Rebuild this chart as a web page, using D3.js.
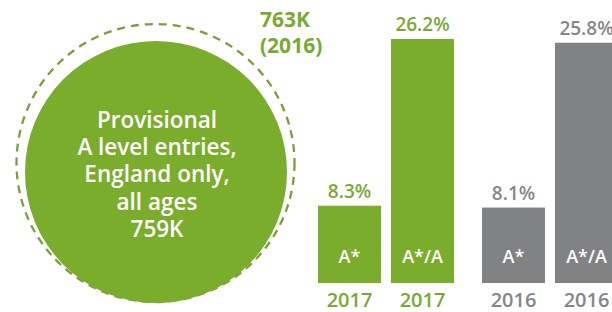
<!DOCTYPE html>
<html>
<head>
<meta charset="utf-8">
<script src="https://cdn.jsdelivr.net/npm/d3@7"></script>
<style>
  body { margin: 0; background: #fff; }
  svg { display: block; font-family: "Open Sans", sans-serif; }
</style>
</head>
<body>
<div id="chart"></div>
<script>
// data
var years = ["2017", "2016"];
var grades = ["A*", "A*/A"];
var values2017 = [8.3, 26.2];
var values2016 = [8.1, 25.8];
var bubbleLines = ["Provisional", "A level entries,", "England only,", "all ages", "759K"];
var previousLines = ["763K", "(2016)"];

var green = "#7aad2b";
var gray = "#808283";
var greenText = "#79aa33";
var grayText = "#858789";

var width = 612, height = 312;

var svg = d3.select("#chart").append("svg")
    .attr("width", width)
    .attr("height", height);

// bubble: dashed outline for 2016, solid for 2017
svg.append("circle")
    .attr("cx", 155.5)
    .attr("cy", 163)
    .attr("r", 139)
    .attr("fill", "none")
    .attr("stroke", "#7b9f3c")
    .attr("stroke-width", 2.3)
    .attr("stroke-dasharray", "8,6");

svg.append("circle")
    .attr("cx", 156)
    .attr("cy", 172)
    .attr("r", 131)
    .attr("fill", green);

svg.append("g").selectAll("text")
    .data(bubbleLines)
    .enter().append("text")
    .attr("x", 157)
    .attr("y", function (d, i) { return 128 + i * 27.2; })
    .attr("text-anchor", "middle")
    .attr("fill", "#fff")
    .attr("font-size", 22.5)
    .attr("font-weight", 600)
    .text(function (d) { return d; });

svg.append("g").selectAll("text")
    .data(previousLines)
    .enter().append("text")
    .attr("x", 260)
    .attr("y", function (d, i) { return 27 + i * 26; })
    .attr("fill", greenText)
    .attr("font-size", 21)
    .attr("font-weight", 700)
    .text(function (d) { return d; });

// bars
var bars = [];
years.forEach(function (yr) {
    var vals = yr === "2017" ? values2017 : values2016;
    grades.forEach(function (g, i) {
        bars.push({year: yr, grade: g, value: vals[i]});
    });
});

var x0 = d3.scaleBand()
    .domain(years)
    .range([318, 618])
    .paddingInner(28 / 164);

var x1 = d3.scaleBand()
    .domain(grades)
    .range([0, x0.bandwidth()])
    .paddingInner(10 / 73);

var y = d3.scaleLinear()
    .domain([0, 26.2])
    .range([283, 39]);

var bar = svg.append("g").selectAll("g")
    .data(bars)
    .enter().append("g")
    .attr("transform", function (d) {
        return "translate(" + (x0(d.year) + x1(d.grade)) + ",0)";
    });

bar.append("rect")
    .attr("x", 0)
    .attr("y", function (d) { return y(d.value); })
    .attr("width", x1.bandwidth())
    .attr("height", function (d) { return y(0) - y(d.value); })
    .attr("fill", function (d) { return d.year === "2017" ? green : gray; });

bar.append("text")
    .attr("x", x1.bandwidth() / 2)
    .attr("y", function (d) { return y(d.value) - 8; })
    .attr("text-anchor", "middle")
    .attr("font-size", 19)
    .attr("font-weight", 600)
    .attr("fill", function (d) { return d.year === "2017" ? greenText : grayText; })
    .text(function (d) { return d.value.toFixed(1) + "%"; });

bar.append("text")
    .attr("x", x1.bandwidth() / 2)
    .attr("y", y(0) - 20)
    .attr("text-anchor", "middle")
    .attr("font-size", 18)
    .attr("font-weight", 600)
    .attr("fill", "#fff")
    .text(function (d) { return d.grade; });

bar.append("text")
    .attr("x", x1.bandwidth() / 2)
    .attr("y", 307)
    .attr("text-anchor", "middle")
    .attr("font-size", 20)
    .attr("font-weight", 600)
    .attr("fill", function (d) { return d.year === "2017" ? greenText : grayText; })
    .text(function (d) { return d.year; });
</script>
</body>
</html>
